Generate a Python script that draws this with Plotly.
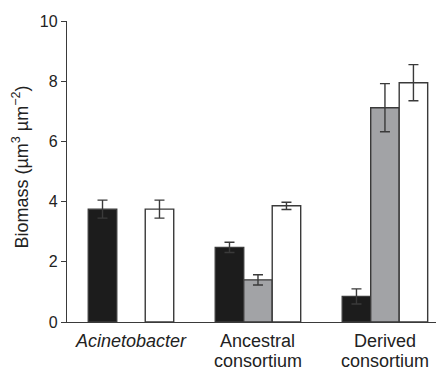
import plotly.graph_objects as go

categories = ["Acinetobacter", "Ancestral consortium", "Derived consortium"]
label_line1 = ["<i>Acinetobacter</i>", "Ancestral", "Derived"]
label_line2 = ["", "consortium", "consortium"]
black_vals = [3.75, 2.48, 0.85]
black_err = [0.30, 0.17, 0.25]
gray_vals = [None, 1.40, 7.12]
gray_err = [0, 0.17, 0.80]
white_vals = [3.75, 3.86, 7.95]
white_err = [0.30, 0.12, 0.60]
y_ticks = [0, 2, 4, 6, 8, 10]

edge = "#3a3a3a"
txt = "#222222"
font = "Liberation Sans, Arial, sans-serif"

def bar(vals, errs, fill):
    return go.Bar(
        x=categories, y=vals, marker=dict(color=fill, line=dict(color=edge, width=1.4)),
        error_y=dict(type="data", array=errs, visible=True, color=edge, thickness=1.4, width=5),
        showlegend=False,
    )

fig = go.Figure([
    bar(black_vals, black_err, "#1c1c1c"),
    bar(gray_vals, gray_err, "#a2a3a6"),
    bar(white_vals, white_err, "#ffffff"),
])

# page body has an 8px default margin, so the figure is 8px smaller and offset
annotations = []
for cat, l1, l2 in zip(categories, label_line1, label_line2):
    annotations.append(dict(x=cat, y=-0.062, xref="x", yref="paper", text=l1, showarrow=False,
                            xanchor="center", yanchor="middle", borderpad=0,
                            font=dict(size=18, color=txt)))
    if l2:
        annotations.append(dict(x=cat, y=-0.128, xref="x", yref="paper", text=l2, showarrow=False,
                                xanchor="center", yanchor="middle", borderpad=0,
                                font=dict(size=18, color=txt)))
annotations.append(dict(x=-0.122, y=0.513, xref="paper", yref="paper",
                        text="Biomass (µm<sup>3</sup> µm<sup>−2</sup>)", textangle=-90,
                        showarrow=False, xanchor="center", yanchor="middle", borderpad=0,
                        font=dict(size=18, color=txt)))

fig.update_layout(
    width=436, height=359,
    margin=dict(l=59, r=0, t=13, b=45, autoexpand=False),
    paper_bgcolor="white", plot_bgcolor="white",
    barmode="group", bargap=0.327, bargroupgap=0,
    font=dict(family=font, size=16, color=txt),
    annotations=annotations,
)
fig.update_xaxes(
    range=[-0.504, 2.465], showline=True, linecolor=edge, linewidth=1.4,
    ticks="", showticklabels=False, showgrid=False, zeroline=False, automargin=False,
)
fig.update_yaxes(
    range=[0, 10], tickvals=y_ticks, showline=True, linecolor=edge, linewidth=1.4,
    ticks="outside", ticklen=5, tickcolor=edge, tickwidth=1.4, showgrid=False, zeroline=False,
    tickfont=dict(size=16), automargin=False,
)

fig.write_html("out.html")
